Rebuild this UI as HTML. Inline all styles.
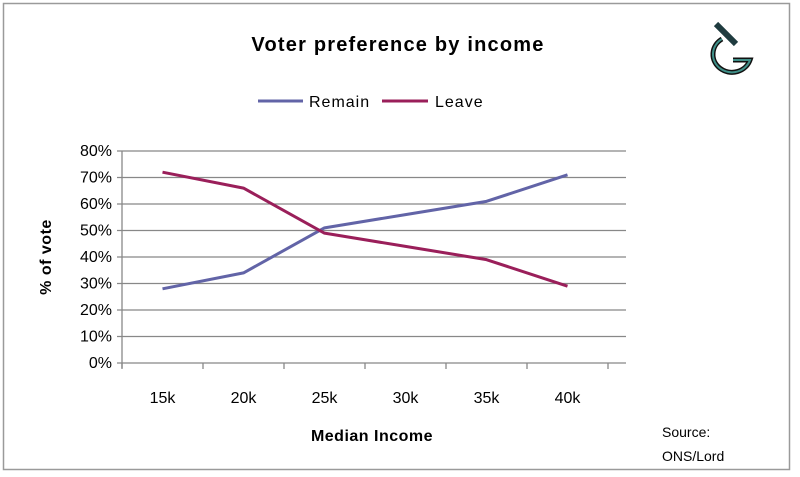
<!DOCTYPE html>
<html><head><meta charset="utf-8"><style>
body{margin:0;background:#fff;}
svg{display:block;font-family:"Liberation Sans",sans-serif;}
</style></head><body>
<svg width="800" height="477">
<rect x="3.5" y="3.5" width="786" height="466" fill="#fff" stroke="#9a9a9a" stroke-width="1.5"/>
<text x="398" y="51" text-anchor="middle" font-size="20" font-weight="bold" letter-spacing="1.2" fill="#000">Voter preference by income</text>
<g>
<path d="M722 39 A19 18 0 1 0 750 60 L733 60" fill="none" stroke="#111" stroke-width="5"/>
<path d="M722 39 A19 18 0 1 0 750 60 L733 60" fill="none" stroke="#3f8f88" stroke-width="2"/>
<line x1="716" y1="24" x2="736" y2="44" stroke="#1f3b3f" stroke-width="6"/>
</g>
<g>
<line x1="258" y1="101" x2="303" y2="101" stroke="#6264a7" stroke-width="3"/>
<text x="309" y="107" font-size="16" letter-spacing="1">Remain</text>
<line x1="382" y1="101" x2="428" y2="101" stroke="#9a1f5a" stroke-width="3"/>
<text x="435" y="107" font-size="16" letter-spacing="1">Leave</text>
</g>
<g id="plot"></g>
<text x="372" y="441" text-anchor="middle" font-size="16" font-weight="bold" letter-spacing="0.5">Median Income</text>
<text transform="translate(51,257) rotate(-90)" text-anchor="middle" font-size="16" font-weight="bold" letter-spacing="0.5">% of vote</text>
<text x="662" y="437" font-size="14">Source:</text>
<text x="662" y="461" font-size="14">ONS/Lord</text>
</svg>
<script>
const categories=["15k","20k","25k","30k","35k","40k"];
const remain=[28,34,51,56,61,71];
const leave=[72,66,49,44,39,29];
const yTicks=[0,10,20,30,40,50,60,70,80];
const x0=122,x1=608,yTop=151,yBot=363,yMax=80;
const band=(x1-x0)/categories.length;
const xs=i=>x0+band*(i+0.5);
const ys=v=>yBot-(v/yMax)*(yBot-yTop);
const g=document.getElementById('plot');
const NS="http://www.w3.org/2000/svg";
function mk(t,a){const e=document.createElementNS(NS,t);for(const k in a)e.setAttribute(k,a[k]);g.appendChild(e);return e;}
yTicks.forEach(v=>{
 const l=mk('line',{x1:x0-5,x2:x1+18,y1:ys(v),y2:ys(v),stroke:'#888','stroke-width':1.3});
 
 
 const t=mk('text',{x:x0-10,y:ys(v)+5,'text-anchor':'end','font-size':16});
 t.textContent=v+'%';
 
 
});
const ax=mk('line',{x1:x0,x2:x0,y1:yTop,y2:yBot+5,stroke:'#888','stroke-width':1.3});


for(let i=0;i<=categories.length;i++){
 const t=mk('line',{x1:x0+band*i,x2:x0+band*i,y1:yBot,y2:yBot+6,stroke:'#888','stroke-width':1.3});
 
 
}
categories.forEach((c,i)=>{
 const t=mk('text',{x:xs(i),y:403,'text-anchor':'middle','font-size':16});
 t.textContent=c;
 
 
});
function series(arr,color,name){
 const p=mk('polyline',{points:arr.map((v,i)=>xs(i)+','+ys(v)).join(' '),fill:'none',stroke:color,'stroke-width':3,'stroke-linejoin':'round'});
 
 
}
series(remain,'#6264a7','remain-line');
series(leave,'#9a1f5a','leave-line');
</script>
</body></html>
